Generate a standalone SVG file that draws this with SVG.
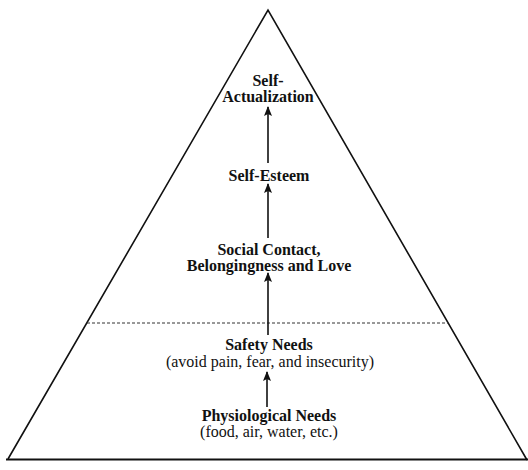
<svg xmlns="http://www.w3.org/2000/svg" width="528" height="470" viewBox="0 0 528 470">
<defs>
<marker id="ah" markerWidth="10" markerHeight="8" refX="9" refY="4" orient="auto" markerUnits="userSpaceOnUse" viewBox="0 0 10 8">
<path d="M0,0 L10,4 L0,8 L2,4 Z" fill="#111"/>
</marker>
<style>
.t{font-family:"Liberation Serif","Times New Roman",serif;fill:#111;text-anchor:middle}
.b{font-weight:bold;font-size:16px}
.r{font-size:16px}
.edge{stroke:#111;stroke-width:1.6;fill:none}
.arr{stroke:#111;stroke-width:1.6;fill:none}
</style>
</defs>
<rect width="528" height="470" fill="#fff"/>
<g id="pyramid">
<path class="edge" d="M8,459 L268,10 L527,460"/>
<line x1="6" y1="459.5" x2="528" y2="459.5" stroke="#111" stroke-width="2"/>
<line x1="87" y1="323" x2="448" y2="323" stroke="#333" stroke-width="1" stroke-dasharray="3,2"/>
</g>
<g id="connectors">
<line class="arr" x1="268" y1="163" x2="268" y2="107" marker-end="url(#ah)"/>
<line class="arr" x1="268" y1="238" x2="268" y2="184" marker-end="url(#ah)"/>
<line class="arr" x1="268" y1="335" x2="268" y2="273" marker-end="url(#ah)"/>
<line class="arr" x1="267" y1="407" x2="267" y2="372" marker-end="url(#ah)"/>
</g>
<g id="self-actualization">
<text class="t b" x="268" y="86">Self-</text>
<text class="t b" x="268" y="102">Actualization</text>
</g>
<g id="self-esteem">
<text class="t b" x="269" y="181">Self-Esteem</text>
</g>
<g id="social">
<text class="t b" x="269" y="255">Social Contact,</text>
<text class="t b" x="269" y="271">Belongingness and Love</text>
</g>
<g id="safety">
<text class="t b" x="269" y="350">Safety Needs</text>
<text class="t r" x="270" y="367">(avoid pain, fear, and insecurity)</text>
</g>
<g id="physiological">
<text class="t b" x="269" y="421">Physiological Needs</text>
<text class="t r" x="269" y="437">(food, air, water, etc.)</text>
</g>
</svg>
